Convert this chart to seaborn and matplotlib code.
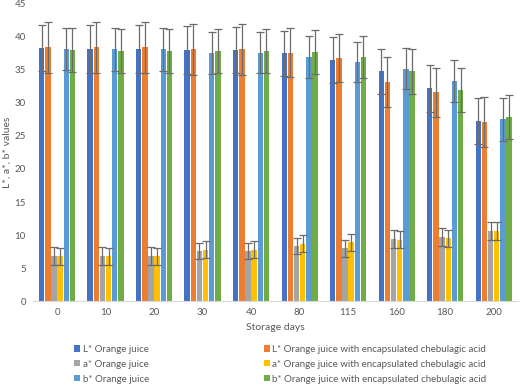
import pandas as pd
import seaborn as sns
import matplotlib.pyplot as plt

# Storage days (categories)
days = ["0", "10", "20", "30", "40", "80", "115", "160", "180", "200"]

series_names = [
    "L* Orange juice",
    "L* Orange juice with encapsulated chebulagic acid",
    "a* Orange juice",
    "a* Orange juice with encapsulated chebulagic acid",
    "b* Orange juice",
    "b* Orange juice with encapsulated chebulagic acid",
]

# Mean values
L_oj = [38.3, 38.2, 38.2, 38.0, 38.0, 37.5, 36.5, 34.8, 32.2, 27.3]
L_enc = [38.4, 38.4, 38.4, 38.1, 38.1, 37.6, 36.8, 33.2, 31.6, 27.1]
a_oj = [6.8, 6.8, 6.8, 7.6, 7.6, 8.4, 8.0, 9.4, 9.7, 10.6]
a_enc = [6.8, 6.8, 6.8, 7.8, 7.8, 8.7, 8.9, 9.3, 9.5, 10.6]
b_oj = [38.2, 38.1, 38.1, 37.6, 37.6, 37.0, 36.2, 35.2, 33.3, 27.5]
b_enc = [38.0, 37.9, 37.9, 37.9, 37.9, 37.7, 37.0, 34.8, 32.0, 27.9]

# Error bar half-widths
L_oj_err = [3.5, 3.6, 3.6, 3.6, 3.5, 3.4, 3.5, 3.4, 3.5, 3.5]
L_enc_err = [3.8, 3.8, 3.8, 3.9, 3.9, 3.7, 3.7, 3.8, 3.7, 3.8]
a_oj_err = [1.4, 1.4, 1.4, 1.2, 1.2, 1.2, 1.3, 1.3, 1.3, 1.3]
a_enc_err = [1.3, 1.3, 1.3, 1.3, 1.3, 1.3, 1.3, 1.3, 1.3, 1.3]
b_oj_err = [3.2, 3.3, 3.3, 3.2, 3.1, 3.2, 3.1, 3.1, 3.2, 3.3]
b_enc_err = [3.3, 3.3, 3.3, 3.3, 3.3, 3.3, 3.2, 3.4, 3.3, 3.3]

colors = ["#4472C4", "#ED7D31", "#A5A5A5", "#FFC000", "#5B9BD5", "#70AD47"]

values = [L_oj, L_enc, a_oj, a_enc, b_oj, b_enc]
errors = [L_oj_err, L_enc_err, a_oj_err, a_enc_err, b_oj_err, b_enc_err]

rows = []
for name, vals in zip(series_names, values):
    for d, v in zip(days, vals):
        rows.append((d, name, v))
df = pd.DataFrame(rows, columns=["Day", "Series", "Value"])

sns.set_theme(style="white")
plt.rcParams["font.family"] = ["Lato", "DejaVu Sans"]
text_col = "#595959"

fig = plt.figure(figsize=(5.2, 3.9), dpi=100)
ax = fig.add_axes([0.063, 0.228, 0.933, 0.762])

sns.barplot(data=df, x="Day", y="Value", hue="Series", order=days,
            hue_order=series_names, palette=colors, width=0.76, gap=0.12,
            saturation=1, errorbar=None, linewidth=0, ax=ax)

# error bars
for cont, errs in zip(ax.containers, errors):
    xs = [b.get_x() + b.get_width() / 2 for b in cont]
    ys = [b.get_height() for b in cont]
    ax.errorbar(xs, ys, yerr=errs, fmt="none", ecolor="#6b6b6b",
                elinewidth=0.9, capsize=2.6, capthick=0.9)

ax.set_ylim(0, 45)
ax.set_yticks(range(0, 46, 5))
ax.set_xlim(-0.5, len(days) - 0.5)
ax.set_xlabel("Storage days", fontsize=7.5, color=text_col, labelpad=4)
ax.set_ylabel("L*, a*, b* values", fontsize=7.5, color=text_col, labelpad=2)
ax.tick_params(axis="both", length=0, labelsize=7, colors=text_col, pad=5)

for s in ["top", "right", "left"]:
    ax.spines[s].set_visible(False)
ax.spines["bottom"].set_color("#D9D9D9")
ax.spines["bottom"].set_linewidth(0.8)

handles, labels = ax.get_legend_handles_labels()
order = [0, 2, 4, 1, 3, 5]
ax.legend([handles[i] for i in order], [labels[i] for i in order], ncol=2,
          loc="upper left", bbox_to_anchor=(74 / 520, 1 - 345 / 390),
          bbox_transform=fig.transFigure, frameon=False, fontsize=7,
          labelcolor=text_col, handlelength=0.6, handleheight=0.6,
          handletextpad=0.3, columnspacing=11.8, labelspacing=0.6,
          borderpad=0, borderaxespad=0)

fig.savefig("out.png", dpi=100)
